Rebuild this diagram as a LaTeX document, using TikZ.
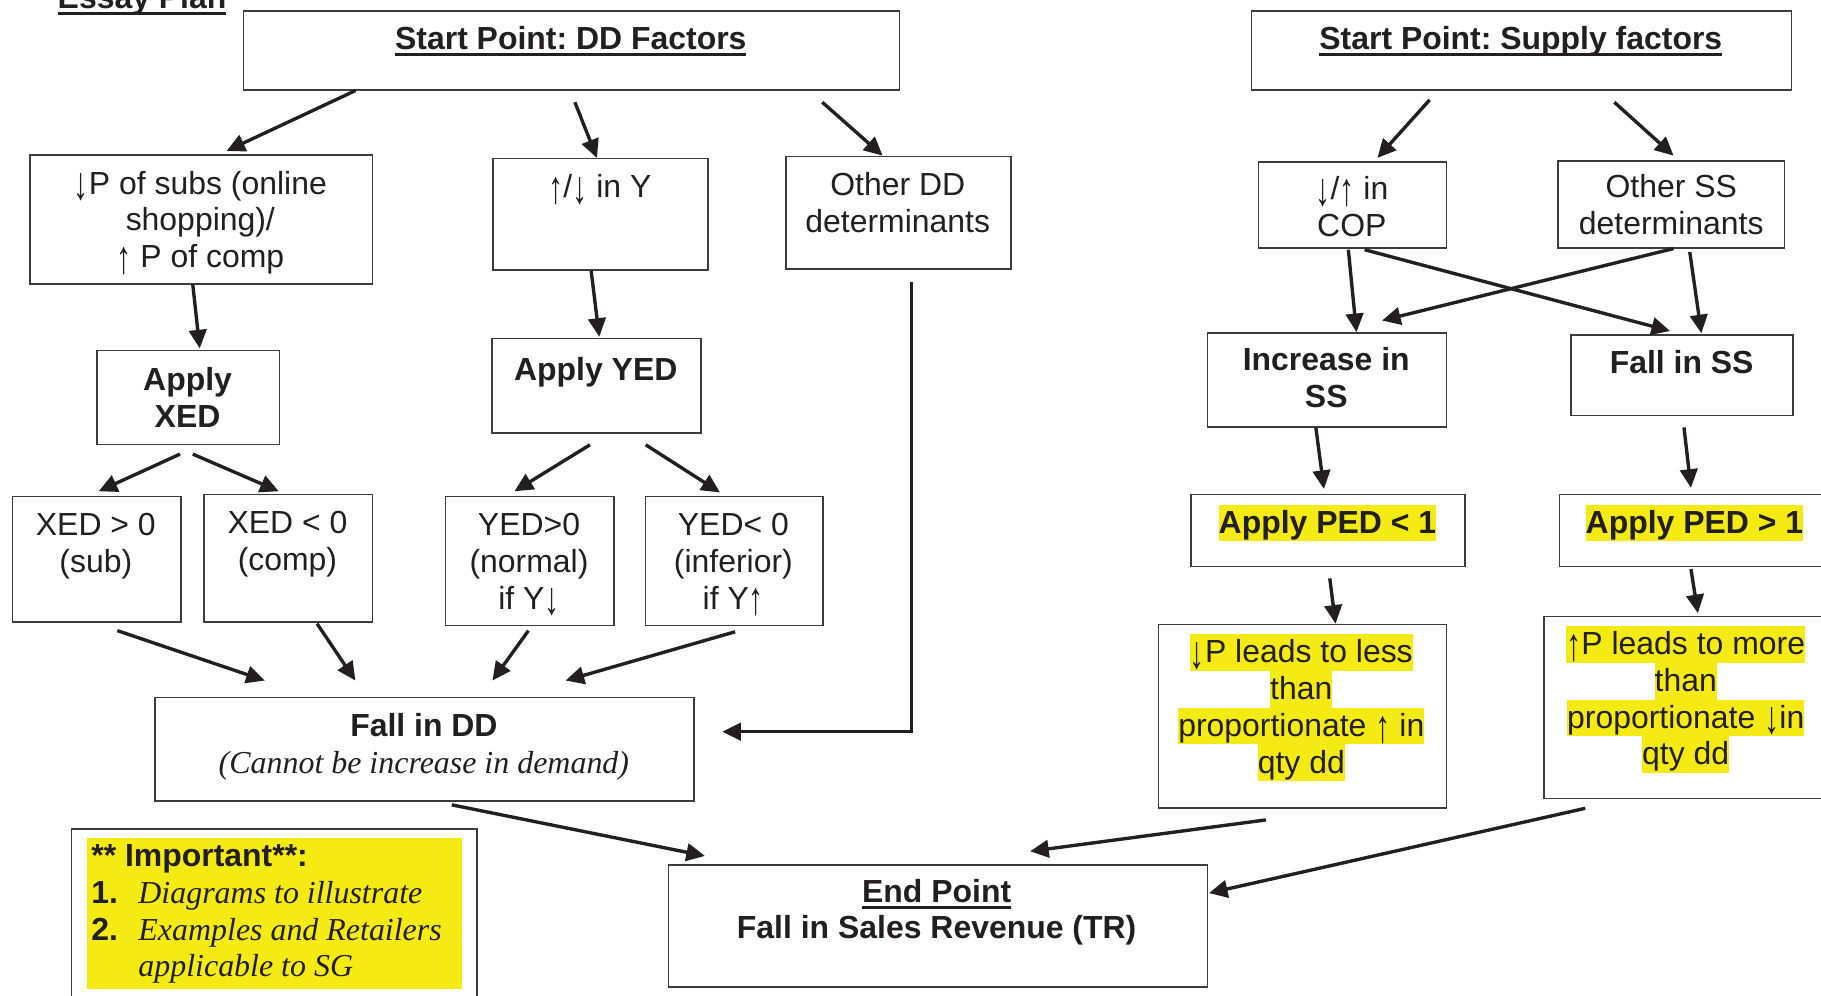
\documentclass[tikz,border=0pt]{standalone}
\usepackage{fontspec}
\usepackage{graphicx}
\setmainfont{Liberation Sans}
\newfontfamily\tms{Liberation Serif}
\usetikzlibrary{arrows.meta,calc}
\frenchspacing
\definecolor{ink}{RGB}{35,31,32}
\definecolor{edge}{RGB}{60,60,60}
\definecolor{hly}{RGB}{245,235,20}
\newcommand\myul[1]{\setbox0\hbox{#1}\leavevmode\rlap{\rule[-6pt]{\wd0}{2.6pt}}\box0}
\newcommand\hl[1]{{\setlength\fboxsep{0pt}\colorbox{hly}{\rule[-7pt]{0pt}{31.6pt}#1}}}
\newcommand\tp{\rule{0pt}{24pt}}
\newcommand\dnar{\raisebox{-5pt}{\scalebox{0.95}[1.45]{↓}}}
\newcommand\upar{\raisebox{-5pt}{\scalebox{0.95}[1.45]{↑}}}
\tikzset{
  box/.style={draw=edge, line width=1.3pt, anchor=north west, inner sep=0pt},
  txt/.style={anchor=north, inner sep=0pt, align=center, text=ink, font=\fontsize{27.5}{31.6}\selectfont},
  arr/.style={draw=ink, line width=2.9pt, -{Triangle[length=16pt,width=15pt]}},
}
\begin{document}
\begin{tikzpicture}[x=1pt,y=-1pt]
\useasboundingbox (0,0) rectangle (1568,857);
\clip (0,0) rectangle (1568,857);
\fill[white] (0,0) rectangle (1568,857);

% title
\node[txt, anchor=base west] (essay) at (49.5,7) {\myul{\textbf{Essay Plan}}};

% boxes
\node[box, minimum width=565, minimum height=68] (dd) at (209,9) {};
\node[box, minimum width=465, minimum height=68] (ss) at (1077,9) {};
\node[box, minimum width=295, minimum height=111] (subs) at (25,133) {};
\node[box, minimum width=185, minimum height=96] (ybox) at (424,136) {};
\node[box, minimum width=194, minimum height=97] (otherdd) at (676,134) {};
\node[box, minimum width=157, minimum height=81] (xed) at (83,301) {};
\node[box, minimum width=180, minimum height=81] (yed) at (423,291) {};
\node[box, minimum width=145, minimum height=108] (xg) at (10,427) {};
\node[box, minimum width=145, minimum height=110] (xl) at (175,425) {};
\node[box, minimum width=145, minimum height=111] (yg) at (383,427) {};
\node[box, minimum width=153, minimum height=111] (yl) at (555,427) {};
\node[box, minimum width=464, minimum height=89] (falldd) at (133,600) {};
\node[box, minimum width=349, minimum height=170] (imp) at (61,713) {};
\node[fill=hly, anchor=north west, inner sep=0pt, minimum width=323, minimum height=130] (imphl) at (74.5,721.5) {};
\node[box, minimum width=464, minimum height=105] (endp) at (575,744) {};
\node[box, minimum width=162, minimum height=74] (cop) at (1083,139) {};
\node[box, minimum width=195, minimum height=75] (otherss) at (1341,138) {};
\node[box, minimum width=206, minimum height=81] (incss) at (1039,286) {};
\node[box, minimum width=191, minimum height=69] (fallss) at (1352,288) {};
\node[box, minimum width=236, minimum height=62] (ped1) at (1025,425) {};
\node[box, minimum width=260, minimum height=62] (ped2) at (1342,425) {};
\node[box, minimum width=248, minimum height=158] (lp) at (997,537) {};
\node[box, minimum width=270, minimum height=157] (mp) at (1329,530) {};

% texts
\node[txt] (dd-t) at (491.5,18) {\tp\myul{\textbf{Start Point: DD Factors}}};
\node[txt] (ss-t) at (1309.5,18) {\tp\myul{\textbf{Start Point: Supply factors}}};
\node[txt] (subs-t) at (172.5,143) {\tp\dnar P of subs (online\\shopping)/\\\upar{} P of comp};
\node[txt] (ybox-t) at (516.5,146) {\tp\upar/\dnar{} in Y};
\node[txt] (otherdd-t) at (773,144) {\tp Other DD\\determinants};
\node[txt] (xed-t) at (161.5,312) {\tp\textbf{Apply}\\\textbf{XED}};
\node[txt] (yed-t) at (513,303) {\tp\textbf{Apply YED}};
\node[txt] (xg-t) at (82.5,437) {\tp XED > 0\\(sub)};
\node[txt] (xl-t) at (247.5,435) {\tp XED < 0\\(comp)};
\node[txt] (yg-t) at (455.5,437) {\tp YED>0\\(normal)\\if Y\dnar};
\node[txt] (yl-t) at (631.5,437) {\tp YED< 0\\(inferior)\\if Y\upar};
\node[txt] (falldd-t) at (365,610) {\tp\textbf{Fall in DD}\\{\tms\itshape (Cannot be increase in demand)}};
\node[txt, anchor=north west, align=left] (imp-t) at (78.5,722.2) {\tp\textbf{** Important**:}\\\makebox[40.5pt][l]{\textbf{1.}}{\tms\itshape Diagrams to illustrate}\\\makebox[40.5pt][l]{\textbf{2.}}{\tms\itshape Examples and Retailers}\\\hspace*{40.5pt}{\tms\itshape applicable to SG}};
\node[txt] (endp-t) at (806.5,752.5) {\tp\myul{\textbf{End Point}}\\\textbf{Fall in Sales Revenue (TR)}};
\node[txt] (cop-t) at (1164,148) {\tp\dnar/\upar{} in\\COP};
\node[txt] (otherss-t) at (1439,146) {\tp Other SS\\determinants};
\node[txt] (incss-t) at (1142,295) {\tp\textbf{Increase in}\\\textbf{SS}};
\node[txt] (fallss-t) at (1448,297) {\tp\textbf{Fall in SS}};
\node[txt] (ped1-t) at (1143,434.4) {\hl{\textbf{Apply PED < 1}}};
\node[txt] (ped2-t) at (1459,434.4) {\hl{\textbf{Apply PED > 1}}};
\node[txt] (lp-t) at (1120.5,546) {\hl{\dnar P leads to less}\\\hl{than}\\\hl{proportionate \upar{} in}\\\hl{qty dd}};
\node[txt] (mp-t) at (1451.5,539) {\hl{\upar P leads to more}\\\hl{than}\\\hl{proportionate \dnar in}\\\hl{qty dd}};

% connectors, left part
\draw[arr] ($(dd.north west)+(97,69)$) -- ($(subs.north west)+(170,-3)$);
\draw[arr] ($(dd.north west)+(286,79)$) -- ($(ybox.north west)+(90,0)$);
\draw[arr] ($(dd.north west)+(499,79)$) -- ($(otherdd.north west)+(84,0)$);
\draw[arr] ($(subs.north west)+(141,112)$) -- ($(xed.north west)+(89,-1)$);
\draw[arr] ($(ybox.north west)+(85,97)$) -- ($(yed.north west)+(93,-1)$);
\draw[arr] ($(xed.north west)+(72,90)$) -- ($(xg.north west)+(75,-4)$);
\draw[arr] ($(xed.north west)+(83,90)$) -- ($(xl.north west)+(65,-2)$);
\draw[arr] ($(yed.north west)+(85,92)$) -- ($(yg.north west)+(60,-4)$);
\draw[arr] ($(yed.north west)+(133,92)$) -- ($(yl.north west)+(65,-3)$);
\draw[arr] ($(xg.north west)+(91,116)$) -- ($(falldd.north west)+(95,-14)$);
\draw[arr] ($(xl.north west)+(98,112)$) -- ($(falldd.north west)+(173,-14)$);
\draw[arr] ($(yg.north west)+(72,116)$) -- ($(falldd.north west)+(291,-14)$);
\draw[arr] ($(yl.north west)+(78,117)$) -- ($(falldd.north west)+(354,-14)$);
\draw[arr] ($(otherdd.north west)+(109,109)$) |- ($(falldd.north west)+(489,30)$);
\draw[arr] ($(falldd.north west)+(256,93)$) -- ($(endp.north west)+(32,-7)$);

% connectors, right part
\draw[arr] ($(ss.north west)+(154,77)$) -- ($(cop.north west)+(103,-3)$);
\draw[arr] ($(ss.north west)+(313,79)$) -- ($(otherss.north west)+(100,-4)$);
\draw[arr] ($(cop.north west)+(78,76)$) -- ($(incss.north west)+(129,0)$);
\draw[arr] ($(cop.north west)+(92,76)$) -- ($(fallss.north west)+(86,-3)$);
\draw[arr] ($(otherss.north west)+(100,76)$) -- ($(incss.north west)+(151,-10)$);
\draw[arr] ($(otherss.north west)+(114,79)$) -- ($(fallss.north west)+(113,-1)$);
\draw[arr] ($(incss.north west)+(94,82)$) -- ($(ped1.north west)+(115,-4)$);
\draw[arr] ($(fallss.north west)+(98,80)$) -- ($(ped2.north west)+(114,-5)$);
\draw[arr] ($(ped1.north west)+(120,73)$) -- ($(lp.north west)+(153,0)$);
\draw[arr] ($(ped2.north west)+(114,65)$) -- ($(mp.north west)+(133,-2)$);
\draw[arr] ($(lp.north west)+(93,169)$) -- ($(endp.north west)+(312,-11)$);
\draw[arr] ($(mp.north west)+(36,166)$) -- ($(endp.north west)+(466,25)$);
\end{tikzpicture}
\end{document}
